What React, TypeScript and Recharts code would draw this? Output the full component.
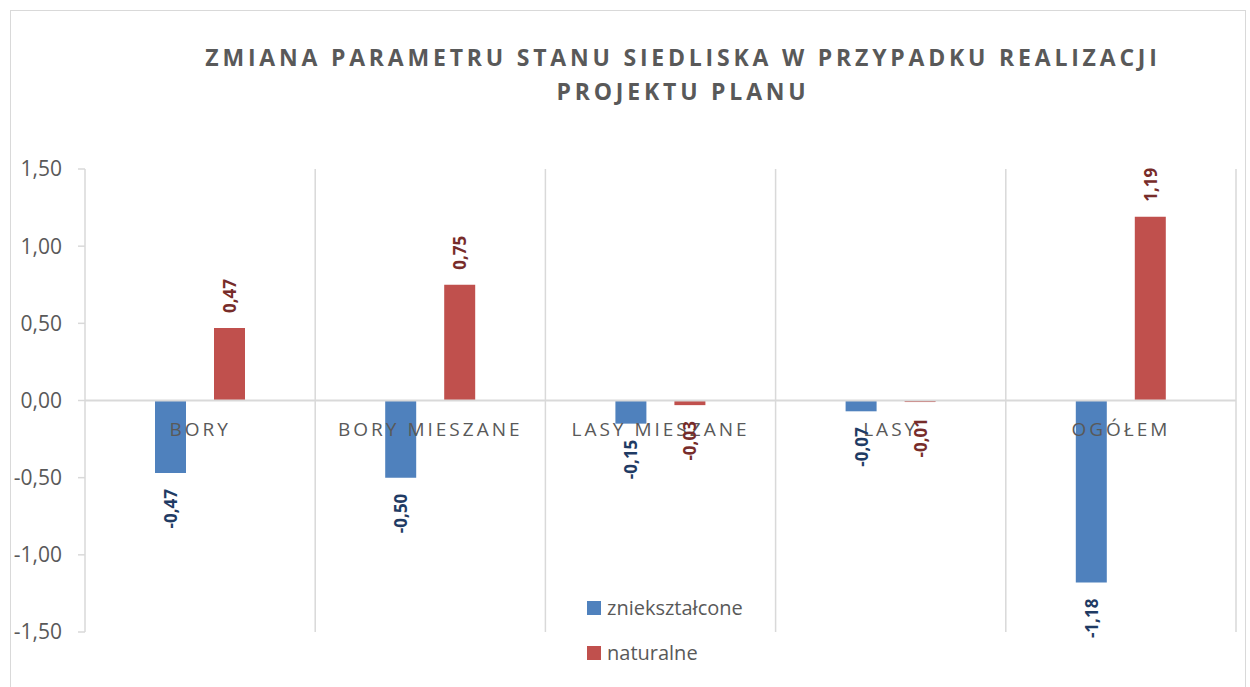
import React from 'react';
import { BarChart, Bar, XAxis, YAxis, ReferenceLine, ReferenceDot, LabelList, Legend } from 'recharts';

const categories = ['BORY', 'BORY MIESZANE', 'LASY MIESZANE', 'LASY', 'OGÓŁEM'];
const znieksztalcone = [-0.47, -0.5, -0.15, -0.07, -1.18];
const naturalne = [0.47, 0.75, -0.03, -0.01, 1.19];
const seriesNames = ['zniekształcone', 'naturalne'];
const seriesColors = ['#4F81BD', '#C0504D'];
const labelColors = ['#1F3B64', '#772C2A'];
const yTicks = [-1.5, -1, -0.5, 0, 0.5, 1, 1.5];
const titleLines = ['ZMIANA PARAMETRU STANU SIEDLISKA W PRZYPADKU REALIZACJI', 'PROJEKTU PLANU'];

const data = categories.map((c, i) => ({ cat: c, z: znieksztalcone[i], n: naturalne[i] }));

const fmt = (v: number) => v.toFixed(2).replace('.', ',');
const FONT = '"Open Sans", sans-serif';
const GRAY = '#595959';
const GRID = '#D9D9D9';

const makeValueLabel = (color: string) => (props: any) => {
  const { x, y, width, height, value } = props;
  const v = Number(value);
  const cx = Number(x) + Number(width) / 2;
  const y1 = Number(y);
  const y2 = Number(y) + Number(height || 0);
  const pos = v >= 0;
  const end = pos ? Math.min(y1, y2) : Math.max(y1, y2);
  const ty = pos ? end - 15 : end + 16;
  return (
    <text
      transform={`translate(${cx},${ty}) rotate(-90)`}
      textAnchor={pos ? 'start' : 'end'}
      dominantBaseline="central"
      fill={color}
      fontSize={17}
      fontWeight={700}
      fontFamily={FONT}
    >
      {fmt(v)}
    </text>
  );
};

const CategoryLabel = (props: any) => {
  const vb = props.viewBox || {};
  const cx = Number(vb.x) + Number(vb.width || 0) / 2;
  const cy = Number(vb.y) + Number(vb.height || 0) / 2;
  return (
    <text x={cx} y={cy + 28} textAnchor="middle" dominantBaseline="central" fill={GRAY} fontSize={19} fontFamily={FONT} letterSpacing={3}>
      {props.text}
    </text>
  );
};

const LegendContent = () => (
  <div style={{ fontFamily: FONT, fontSize: 20, color: GRAY }}>
    {seriesNames.map((n, i) => (
      <div key={n} style={{ display: 'flex', alignItems: 'center', height: 45 }}>
        <span style={{ display: 'inline-block', width: 14, height: 14, background: seriesColors[i], marginRight: 6 }} />
        <span>{n}</span>
      </div>
    ))}
  </div>
);

export default function App() {
  return (
    <div style={{ position: 'absolute', left: 0, top: 0, width: 1250, height: 687, background: '#fff', overflow: 'hidden', fontFamily: FONT }}>
      <div style={{ position: 'absolute', left: 10, top: 10, width: 1236, height: 700, border: `1px solid ${GRID}`, boxSizing: 'border-box' }} />
      <div style={{ position: 'absolute', left: 100, top: 40, width: 1166, textAlign: 'center', fontSize: 23, fontWeight: 700, letterSpacing: 3.8, color: GRAY, lineHeight: '34px' }}>
        {titleLines.map((t) => (
          <div key={t}>{t}</div>
        ))}
      </div>
      <div style={{ position: 'absolute', left: 0, top: 0 }}>
        <BarChart width={1250} height={687} data={data} margin={{ top: 169, right: 14, bottom: 55, left: 0 }} barGap={28}>
          <XAxis xAxisId="cat" dataKey="cat" hide />
          <YAxis
            domain={[-1.5, 1.5]}
            ticks={yTicks}
            tickFormatter={fmt}
            width={85}
            tickSize={7}
            tickMargin={16}
            axisLine={{ stroke: GRID, strokeWidth: 1.5 }}
            tickLine={{ stroke: GRID, strokeWidth: 1.5 }}
            tick={{ fill: GRAY, fontSize: 21, fontFamily: FONT }}
            allowDataOverflow
          />
          {categories.slice(1).map((c) => (
            <ReferenceLine key={`g${c}`} xAxisId="cat" x={c} position="start" stroke={GRID} strokeWidth={1.5} />
          ))}
          <ReferenceLine xAxisId="cat" x={categories[categories.length - 1]} position="end" stroke={GRID} strokeWidth={1.5} />
          <ReferenceLine y={0} xAxisId="cat" stroke={GRID} strokeWidth={2} />
          <Bar xAxisId="cat" dataKey="z" name={seriesNames[0]} fill={seriesColors[0]} barSize={31} isAnimationActive={false}>
            <LabelList dataKey="z" content={makeValueLabel(labelColors[0])} />
          </Bar>
          <Bar xAxisId="cat" dataKey="n" name={seriesNames[1]} fill={seriesColors[1]} barSize={31} isAnimationActive={false}>
            <LabelList dataKey="n" content={makeValueLabel(labelColors[1])} />
          </Bar>
          {categories.map((c) => (
            <ReferenceDot key={c} xAxisId="cat" x={c} y={0} r={1} fill="none" stroke="none" label={<CategoryLabel text={c} />} />
          ))}
          <Legend
            layout="vertical"
            align="center"
            verticalAlign="middle"
            content={LegendContent}
            wrapperStyle={{ left: 587, top: 585, width: 200 }}
          />
        </BarChart>
      </div>
    </div>
  );
}
